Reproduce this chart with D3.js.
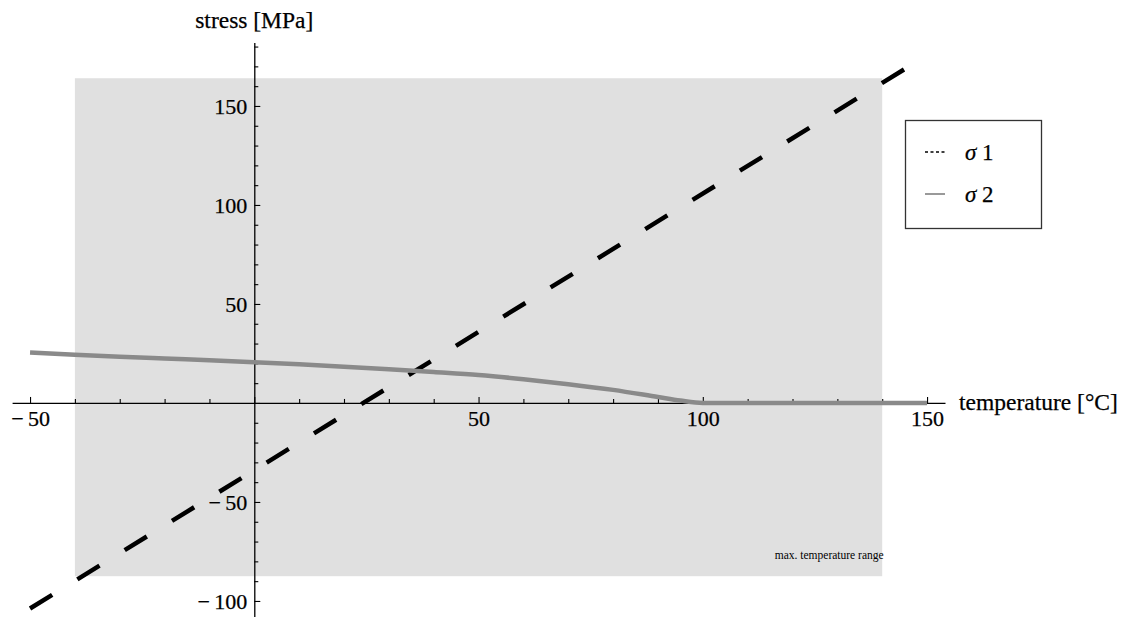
<!DOCTYPE html>
<html lang="en">
<head>
<meta charset="UTF-8">
<script src="https://d3js.org/d3.v7.min.js"></script>
<title>Stress vs temperature</title>
<style>
  body { margin: 0; background: #fff; }
  text { font-family: "Liberation Serif", "DejaVu Serif", serif; fill: #000; }
</style>
</head>
<body>
<div id="chart"></div>
<script>
// sigma 1: straight line, endpoints
const t1 = [-50, 150];
const s1 = [-103.8, 175.6];

// sigma 2
const t2 = [-50, -40, -30, -20, -10, 0, 10, 20, 30, 40, 50, 60, 70, 80, 90, 95, 100, 110, 120, 130, 140, 150];
const s2 = [25.5, 24.4, 23.4, 22.5, 21.6, 20.6, 19.5, 18.3, 17.0, 15.6, 14.1, 12.0, 9.5, 6.6, 3.0, 1.2, 0, 0, 0, 0, 0, 0];

// shaded "max. temperature range" box
const rangeT = [-40, 140];
const rangeS = [-87.5, 164];

const xTicks = d3.range(-50, 151, 10);
const yTicks = d3.range(-100, 181, 10);
const xLabels = [-50, 50, 100, 150];
const yLabels = [-100, -50, 50, 100, 150];
const legendNames = ["1", "2"];

const width = 1124, height = 617;

const svg = d3.select("#chart").append("svg")
    .attr("width", width)
    .attr("height", height);

const x = d3.scaleLinear().domain([-54, 154]).range([12.1, 945]);
const y = d3.scaleLinear().domain([-108, 182]).range([616.8, 42.6]);

const fmt = d => d < 0 ? "\u2212\u2009" + Math.abs(d) : String(d);

// grey range box
svg.append("rect")
    .attr("x", x(rangeT[0]))
    .attr("y", y(rangeS[1]))
    .attr("width", x(rangeT[1]) - x(rangeT[0]))
    .attr("height", y(rangeS[0]) - y(rangeS[1]))
    .attr("fill", "#e0e0e0");

svg.append("text")
    .attr("x", x(rangeT[1]) - 53)
    .attr("y", y(rangeS[0]) - 17)
    .attr("text-anchor", "middle")
    .style("font-size", "11.5px")
    .text("max. temperature range");

// axes crossing at origin
const xAxis = d3.axisBottom(x)
    .tickValues(xTicks)
    .tickSizeInner(-4)
    .tickSizeOuter(0)
    .tickPadding(7)
    .tickFormat(d => xLabels.includes(d) ? fmt(d) : "");

const gx = svg.append("g")
    .attr("transform", `translate(0,${y(0)})`)
    .call(xAxis);

const yAxis = d3.axisLeft(y)
    .tickValues(yTicks)
    .tickSizeInner(-4)
    .tickSizeOuter(0)
    .tickPadding(7)
    .tickFormat(d => yLabels.includes(d) ? fmt(d) : "");

const gy = svg.append("g")
    .attr("transform", `translate(${x(0)},0)`)
    .call(yAxis);

[gx, gy].forEach(g => {
    g.select(".domain").attr("stroke", "#000").attr("stroke-width", 1.3);
    g.selectAll(".tick line").attr("stroke", "#000").attr("stroke-width", 1.1);
    g.selectAll(".tick text")
        .attr("fill", "#000")
        .attr("stroke", "#000")
        .attr("stroke-width", 0.25)
        .style("font-family", "Liberation Serif, serif")
        .style("font-size", "22px");
});
gx.selectAll(".tick line").attr("y2", d => d % 50 === 0 ? -6 : -4);
gy.selectAll(".tick line").attr("x2", d => d % 50 === 0 ? 6 : 4);
gx.selectAll(".tick text").attr("dy", "0.74em");
gy.selectAll(".tick text").attr("dy", "0.35em");

// axis labels
svg.append("text")
    .attr("x", x(0))
    .attr("y", 28)
    .attr("text-anchor", "middle")
    .attr("stroke", "#000").attr("stroke-width", 0.25)
    .style("font-size", "23.5px")
    .text("stress [MPa]");

svg.append("text")
    .attr("x", 959)
    .attr("y", y(0) + 7)
    .attr("stroke", "#000").attr("stroke-width", 0.25)
    .style("font-size", "23.5px")
    .text("temperature [°C]");

// sigma 1 dashed line
const line = d3.line()
    .x(d => x(d[0]))
    .y(d => y(d[1]));

svg.append("path")
    .datum(t1.map((t, i) => [t, s1[i]]))
    .attr("fill", "none")
    .attr("stroke", "#000")
    .attr("stroke-width", 4.5)
    .attr("stroke-dasharray", "26,29.6")
    .attr("d", line);

// sigma 2 grey curve
svg.append("path")
    .datum(t2.map((t, i) => [t, s2[i]]))
    .attr("fill", "none")
    .attr("stroke", "#8a8a8a")
    .attr("stroke-width", 4.5)
    .attr("d", line.curve(d3.curveMonotoneX));

// legend
const lg = svg.append("g");
lg.append("rect")
    .attr("x", 905.5).attr("y", 120.5)
    .attr("width", 136).attr("height", 108)
    .attr("fill", "#fff")
    .attr("stroke", "#333")
    .attr("stroke-width", 1.3);

legendNames.forEach((n, i) => {
    const yy = 152 + i * 42;
    lg.append("line")
        .attr("x1", 925).attr("x2", 945)
        .attr("y1", yy).attr("y2", yy)
        .attr("stroke", i === 0 ? "#000" : "#999")
        .attr("stroke-width", i === 0 ? 1.3 : 2)
        .attr("stroke-dasharray", i === 0 ? "3,2.5" : null);
    const t = lg.append("text")
        .attr("x", 965).attr("y", yy + 7.5)
        .attr("stroke", "#000").attr("stroke-width", 0.25)
        .style("font-size", "23px");
    t.append("tspan").style("font-style", "italic").text("\u03c3");
    t.append("tspan").text(" " + n);
});
</script>
</body>
</html>
